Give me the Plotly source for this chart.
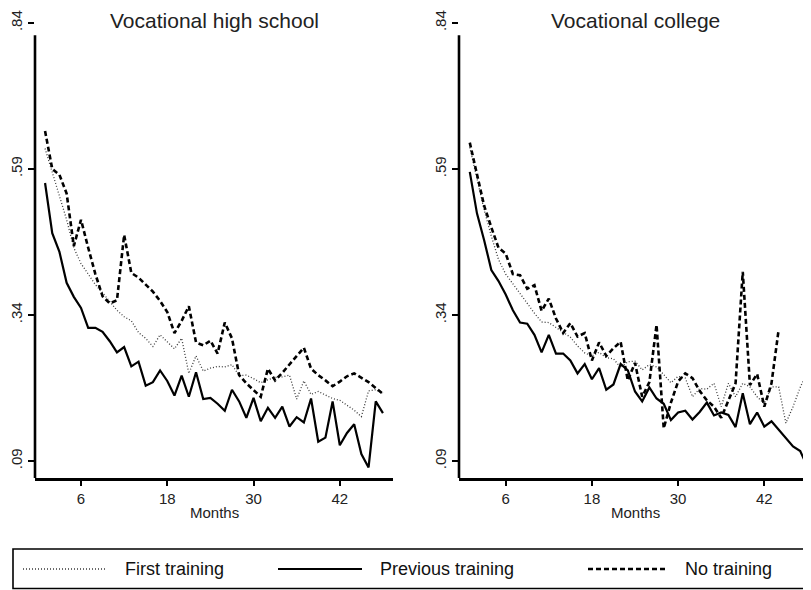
import plotly.graph_objects as go

# page has an 8px body margin; the figure is sized to fit the 811x590 window
OFF = 8
W, H = 811 - OFF, 590 - OFF

months = list(range(1, 49))

# Vocational high school
hs_first = [0.625, 0.585, 0.543, 0.503, 0.455, 0.428, 0.410, 0.392, 0.378, 0.363,
            0.348, 0.337, 0.330, 0.310, 0.300, 0.286, 0.306, 0.294, 0.282, 0.300,
            0.240, 0.270, 0.244, 0.249, 0.252, 0.251, 0.255, 0.236, 0.237, 0.231,
            0.224, 0.229, 0.233, 0.234, 0.237, 0.196, 0.227, 0.204, 0.209, 0.203,
            0.197, 0.194, 0.186, 0.177, 0.166, 0.210, 0.212, 0.206]
hs_prev = [0.566, 0.480, 0.448, 0.395, 0.371, 0.352, 0.318, 0.318, 0.311, 0.295,
           0.276, 0.285, 0.252, 0.260, 0.219, 0.225, 0.245, 0.227, 0.202, 0.236,
           0.200, 0.242, 0.196, 0.198, 0.188, 0.176, 0.212, 0.192, 0.164, 0.198,
           0.158, 0.181, 0.164, 0.183, 0.149, 0.165, 0.156, 0.197, 0.123, 0.130,
           0.192, 0.117, 0.138, 0.153, 0.102, 0.079, 0.192, 0.172]
hs_none = [0.655, 0.590, 0.580, 0.548, 0.458, 0.503, 0.455, 0.410, 0.372, 0.360,
           0.365, 0.477, 0.412, 0.404, 0.392, 0.380, 0.364, 0.345, 0.309, 0.330,
           0.355, 0.293, 0.288, 0.296, 0.274, 0.327, 0.300, 0.237, 0.223, 0.212,
           0.200, 0.248, 0.228, 0.241, 0.255, 0.270, 0.284, 0.248, 0.237, 0.228,
           0.218, 0.226, 0.235, 0.240, 0.232, 0.225, 0.215, 0.205]

# Vocational college
vc_first = [0.627, 0.575, 0.520, 0.475, 0.435, 0.410, 0.394, 0.377, 0.360, 0.343,
            0.328, 0.327, 0.319, 0.310, 0.302, 0.287, 0.275, 0.270, 0.276, 0.267,
            0.265, 0.250, 0.260, 0.261, 0.246, 0.255, 0.251, 0.238, 0.224, 0.235,
            0.232, 0.200, 0.214, 0.213, 0.223, 0.183, 0.223, 0.200, 0.223, 0.217,
            0.200, 0.188, 0.217, 0.217, 0.155, 0.183, 0.216, 0.243]
vc_prev = [0.585, 0.514, 0.468, 0.417, 0.398, 0.375, 0.348, 0.327, 0.325, 0.306,
           0.276, 0.306, 0.274, 0.274, 0.262, 0.240, 0.256, 0.230, 0.249, 0.212,
           0.221, 0.256, 0.245, 0.209, 0.192, 0.216, 0.197, 0.188, 0.160, 0.173,
           0.176, 0.161, 0.174, 0.190, 0.168, 0.173, 0.169, 0.148, 0.206, 0.153,
           0.173, 0.149, 0.158, 0.143, 0.130, 0.115, 0.107, 0.080]
vc_none = [0.635, 0.580, 0.527, 0.490, 0.455, 0.445, 0.410, 0.408, 0.385, 0.391,
           0.347, 0.368, 0.334, 0.309, 0.326, 0.303, 0.309, 0.262, 0.293, 0.270,
           0.283, 0.294, 0.228, 0.258, 0.200, 0.225, 0.323, 0.146, 0.190, 0.226,
           0.240, 0.232, 0.210, 0.194, 0.183, 0.164, 0.193, 0.223, 0.414, 0.220,
           0.239, 0.183, 0.223, 0.315]

ytick_vals = [0.09, 0.34, 0.59, 0.84]
ytick_text = [".09", ".34", ".59", ".84"]
xtick_vals = [6, 18, 30, 42]
titles = ["Vocational high school", "Vocational college"]
series_names = ["First training", "Previous training", "No training"]

FONT = "Liberation Sans, Arial, Helvetica, sans-serif"

styles = {
    "First training": dict(color="#3a3a3a", width=1.3, dash="1px,2px"),
    "Previous training": dict(color="black", width=2.2, dash="solid"),
    "No training": dict(color="black", width=2.6, dash="5px,3px"),
}

fig = go.Figure()

panels = [
    ("x", "y", [hs_first, hs_prev, hs_none]),
    ("x2", "y2", [vc_first, vc_prev, vc_none]),
]
for xa, ya, data in panels:
    for name, vals in zip(series_names, data):
        fig.add_trace(go.Scatter(
            x=months[:len(vals)], y=vals, mode="lines", name=name,
            line=styles[name], xaxis=xa, yaxis=ya, showlegend=False,
        ))

def px(x):
    return (x - OFF) / W

def py(y):
    return (H - (y - OFF)) / H

ylo, yhi = 0.0609, 0.845
ydom = [py(478), py(20)]

yaxis_common = dict(
    showgrid=False, zeroline=False, showline=False, automargin=False,
    ticks="outside", ticklen=6, tickwidth=2.2, tickcolor="black",
    tickfont=dict(family=FONT, size=15, color="#222"),
    range=[ylo, yhi], domain=ydom,
    tickvals=ytick_vals, ticktext=ytick_text, tickangle=-90,
)
xaxis_common = dict(
    tickvals=xtick_vals, showline=True, linecolor="black", linewidth=2.6,
    ticks="outside", ticklen=5, tickwidth=2, tickcolor="black",
    showgrid=False, zeroline=False, automargin=False,
    tickfont=dict(family=FONT, size=15, color="#222"),
)

fig.update_layout(
    width=W, height=H,
    margin=dict(l=0, r=0, t=0, b=0),
    paper_bgcolor="white", plot_bgcolor="white",
    xaxis=dict(domain=[px(35), px(393)], range=[-0.4, 49.4], anchor="y", **xaxis_common),
    xaxis2=dict(domain=[px(459), 1.0], range=[-0.5, 48.5], anchor="y2", **xaxis_common),
    yaxis=dict(anchor="x", **yaxis_common),
    yaxis2=dict(anchor="x2", **yaxis_common),
    showlegend=False,
)

shapes = []
annotations = []

# y axis lines (stop below the top tick as in the original)
for xr, yr in [("x domain", "y"), ("x2 domain", "y2")]:
    shapes.append(dict(type="line", xref=xr, yref=yr, x0=0, x1=0, y0=ylo, y1=0.819,
                       line=dict(color="black", width=2.6)))

# titles and axis titles
for (t, cx) in [(titles[0], (35 + 393) / 2), (titles[1], (459 + 811) / 2)]:
    annotations.append(dict(text=t, xref="paper", yref="paper", x=px(cx), y=py(20.5),
                            showarrow=False, xanchor="center", yanchor="middle",
                            font=dict(family=FONT, size=21, color="#222")))
    annotations.append(dict(text="Months", xref="paper", yref="paper", x=px(cx), y=py(512),
                            showarrow=False, xanchor="center", yanchor="middle",
                            font=dict(family=FONT, size=15, color="#222")))

# legend box
shapes.append(dict(type="rect", xref="paper", yref="paper", x0=px(13), x1=px(807),
                   y0=py(588.5), y1=py(549), line=dict(color="black", width=1.6)))
leg_y = py(569)
leg_items = [(23, 107, 123), (278, 362, 378), (588, 668, 683)]
for name, (s0, s1, tx) in zip(series_names, leg_items):
    st = styles[name]
    shapes.append(dict(type="line", xref="paper", yref="paper", x0=px(s0), x1=px(s1),
                       y0=leg_y, y1=leg_y,
                       line=dict(color=st["color"], width=st["width"], dash=st["dash"])))
    annotations.append(dict(text=name, xref="paper", yref="paper", x=px(tx), y=leg_y,
                            showarrow=False, xanchor="left", yanchor="middle",
                            font=dict(family=FONT, size=18, color="#111")))

fig.update_layout(shapes=shapes, annotations=annotations)

fig.write_html("out.html")
